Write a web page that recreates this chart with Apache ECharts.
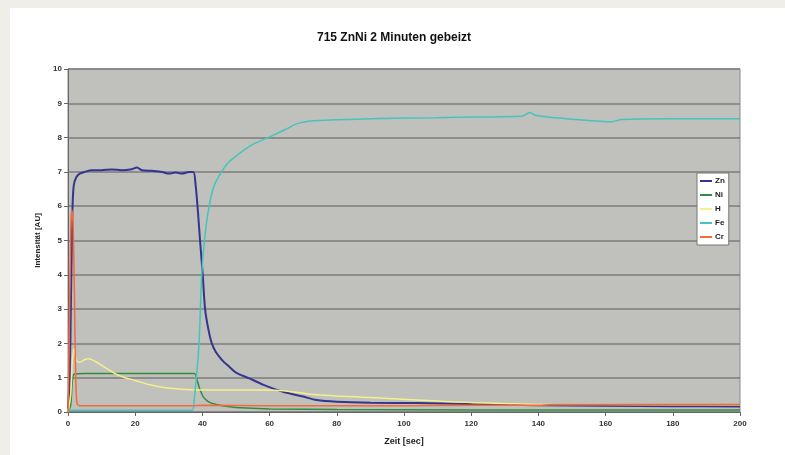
<!DOCTYPE html>
<html>
<head>
<meta charset="utf-8">
<script src="https://cdn.jsdelivr.net/npm/echarts@6/dist/echarts.min.js"></script>
<style>
  html, body { margin: 0; padding: 0; background: #efeee8; }
  #chart { width: 785px; height: 455px; }
</style>
</head>
<body>
<div id="chart"></div>
<script>
/* data: [time in sec, intensity] */
var znData = [[0,0.1],[0.5,1.0],[0.9,3.4],[1.3,5.8],[1.7,6.6],[2.5,6.85],[3.5,6.95],[5,7.0],[7,7.05],[10,7.05],[13,7.07],[16,7.05],[19,7.08],[20.5,7.13],[22,7.05],[25,7.03],[28,7.0],[30,6.95],[32,6.98],[34,6.95],[36,7.0],[37.3,7.0],[38,6.6],[38.7,5.8],[39.3,5.0],[40.1,4.0],[40.8,3.0],[41.8,2.4],[42.8,2.0],[44,1.75],[46,1.5],[48,1.32],[50,1.15],[54,0.98],[58,0.8],[64,0.59],[70,0.45],[74,0.35],[80,0.3],[90,0.27],[104,0.26],[120,0.23],[140,0.2],[160,0.18],[180,0.17],[200,0.16]];
var niData = [[0,0],[0.8,0.2],[1.3,0.9],[1.8,1.1],[5,1.12],[15,1.12],[25,1.12],[37.5,1.12],[38.5,0.9],[39.3,0.65],[40.2,0.45],[41.5,0.32],[43,0.25],[46,0.18],[50,0.13],[60,0.09],[80,0.07],[120,0.06],[160,0.06],[200,0.06]];
var hData = [[0,0],[0.8,0.5],[1.3,1.5],[1.8,1.85],[2.5,1.5],[3.5,1.45],[5,1.53],[6,1.55],[8,1.48],[11,1.3],[14,1.12],[17,1.0],[20,0.92],[24,0.8],[28,0.72],[33,0.67],[39,0.64],[45,0.64],[55,0.64],[63,0.63],[74,0.5],[94,0.4],[114,0.3],[130,0.25],[140,0.22],[160,0.22],[180,0.21],[200,0.21]];
var feData = [[0,0.05],[10,0.05],[20,0.05],[30,0.05],[37,0.05],[37.5,0.3],[38.2,1.0],[39,2.0],[39.8,4.0],[40.6,5.0],[42,6.0],[43.5,6.6],[45.7,7.0],[48,7.3],[50.5,7.5],[55,7.8],[60.7,8.05],[65,8.25],[68,8.4],[73,8.49],[80,8.52],[93,8.56],[110,8.58],[121,8.6],[135,8.62],[137.5,8.73],[139,8.65],[145,8.58],[155,8.5],[161.5,8.46],[165,8.53],[180,8.55],[200,8.55]];
var crData = [[0,0],[0.4,2.5],[0.8,5.2],[1.1,5.9],[1.5,5.5],[1.9,3.5],[2.3,1.0],[2.7,0.25],[3.5,0.18],[10,0.18],[20,0.18],[37,0.18],[40,0.2],[60,0.18],[80,0.18],[100,0.18],[120,0.2],[141,0.2],[145,0.22],[200,0.22]];

var seriesNames = ['Zn', 'Ni', 'H', 'Fe', 'Cr'];
var seriesColors = ['#35358f', '#2f8f3f', '#f4f08a', '#45c4bb', '#f56a3a'];
var seriesData = [znData, niData, hData, feData, crData];

var font = 'Liberation Sans, Arial, sans-serif';

var chart = echarts.init(document.getElementById('chart'));

var series = seriesNames.map(function (name, i) {
    return {
        name: name,
        type: 'line',
        data: seriesData[i],
        showSymbol: false,
        smooth: 0.3,
        lineStyle: { width: i === 0 ? 2 : 1.5, color: seriesColors[i] },
        itemStyle: { color: seriesColors[i] }
    };
});

chart.setOption({
    animation: false,
    backgroundColor: '#efeee8',
    graphic: [{
        type: 'rect',
        z: -10,
        shape: { x: 10, y: 8, width: 775, height: 447 },
        style: { fill: '#ffffff' }
    }],
    title: {
        text: '715 ZnNi 2 Minuten gebeizt',
        left: 312,
        top: 27,
        textStyle: { fontFamily: font, fontSize: 12, fontWeight: 'bold', color: '#111' }
    },
    grid: {
        left: 68, top: 69, right: 45, bottom: 43,
        show: true,
        backgroundColor: '#c0c0bc',
        borderColor: '#8a8a8a',
        borderWidth: 1
    },
    legend: {
        orient: 'vertical',
        left: 697,
        top: 173,
        data: seriesNames,
        icon: 'rect',
        itemWidth: 12,
        itemHeight: 2,
        itemGap: 6,
        padding: [4, 4, 4, 3],
        backgroundColor: '#ffffff',
        borderColor: '#777',
        borderWidth: 1,
        textStyle: { fontFamily: font, fontSize: 8, fontWeight: 'bold', color: '#222', padding: [0, 0, 0, -2] }
    },
    xAxis: {
        type: 'value',
        min: 0,
        max: 200,
        interval: 20,
        name: 'Zeit [sec]',
        nameLocation: 'middle',
        nameGap: 25,
        nameTextStyle: { fontFamily: font, fontSize: 9, fontWeight: 'bold', color: '#222' },
        axisLine: { show: true, lineStyle: { color: '#666' } },
        axisTick: { show: true, length: 4, lineStyle: { color: '#666' } },
        axisLabel: { fontFamily: font, fontSize: 8, fontWeight: 'bold', color: '#333', margin: 8 },
        splitLine: { show: false }
    },
    yAxis: {
        type: 'value',
        min: 0,
        max: 10,
        interval: 1,
        name: 'Intensität [AU]',
        nameLocation: 'middle',
        nameRotate: 90,
        nameGap: 24,
        nameTextStyle: { fontFamily: font, fontSize: 8, fontWeight: 'bold', color: '#222' },
        axisLine: { show: true, lineStyle: { color: '#666' } },
        axisTick: { show: true, length: 4, lineStyle: { color: '#666' } },
        axisLabel: { fontFamily: font, fontSize: 8, fontWeight: 'bold', color: '#333', margin: 6 },
        splitLine: { show: true, lineStyle: { color: '#7c7c7c', width: 1.5 } }
    },
    series: series
});
</script>
</body>
</html>
